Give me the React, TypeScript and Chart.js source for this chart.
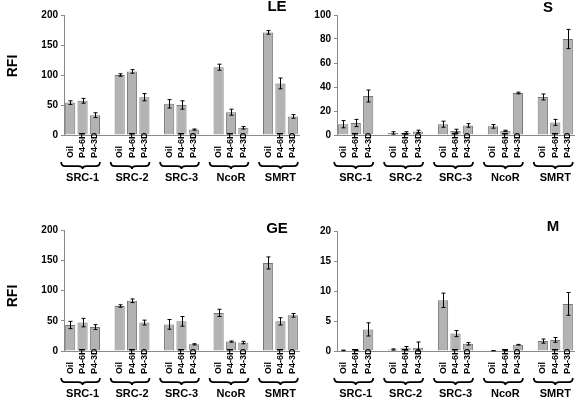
import React, { useEffect, useRef } from "react";
import { Chart, registerables } from "chart.js";

Chart.register(...registerables);

// ---------- data ----------
const groups = ["SRC-1", "SRC-2", "SRC-3", "NcoR", "SMRT"];
const treatments = ["Oil", "P4-6H", "P4-3D"];

// values listed per group: Oil, P4-6H, P4-3D
const leMeans = [54, 57, 33, 100, 106, 63, 52, 50, 9, 113, 38, 12, 171, 86, 31];
const leErrors = [3, 4, 4, 2, 3, 6, 7, 7, 1, 5, 5, 2, 3, 9, 3];

const sMeans = [9, 10, 32.5, 1.7, 1.7, 3, 9, 3.3, 8, 7.2, 3.5, 35, 31.7, 10.5, 80];
const sErrors = [3, 3, 5, 1, 1, 1, 2.5, 1.5, 1.5, 1.5, 0.5, 0.7, 2.5, 2.5, 8];

const geMeans = [43, 47, 39.5, 74.4, 83, 47, 44, 49, 11, 63, 15.5, 14, 145.5, 49, 59];
const geErrors = [6, 7, 4, 2, 3, 4, 8, 8, 1, 6, 1, 2, 10, 6, 3];

const mMeans = [0.1, 0.1, 3.6, 0.25, 0.45, 0.55, 8.45, 2.9, 1.2, 0.05, 0.05, 1.05, 1.65, 1.85, 7.85];
const mErrors = [0.05, 0.05, 1.1, 0.1, 0.3, 0.95, 1.2, 0.5, 0.2, 0, 0, 0.05, 0.35, 0.4, 1.9];

const leTicks = { max: 200, step: 50 };
const sTicks = { max: 100, step: 20 };
const geTicks = { max: 200, step: 50 };
const mTicks = { max: 20, step: 5 };

const yTitle = "RFI";

// ---------- layout ----------
type Panel = {
  title: string;
  means: number[];
  errors: number[];
  ticks: { max: number; step: number };
  left: number;
  top: number;
  width: number;
  height: number;
  padTop: number;
  padRight: number;
  yWidth: number;
  xHeight: number;
  titleDx: number;
  titleDy: number;
  showRfi: boolean;
  rfiY: number;
};

const panels: Panel[] = [
  { title: "LE", means: leMeans, errors: leErrors, ticks: leTicks, left: 0, top: 0, width: 300, height: 201, padTop: 15, padRight: 1, yWidth: 64, xHeight: 66, titleDx: -22, titleDy: -8, showRfi: true, rfiY: 66 },
  { title: "S", means: sMeans, errors: sErrors, ticks: sTicks, left: 300, top: 0, width: 276, height: 201, padTop: 15, padRight: 2, yWidth: 37, xHeight: 66, titleDx: -26, titleDy: -7, showRfi: false, rfiY: 0 },
  { title: "GE", means: geMeans, errors: geErrors, ticks: geTicks, left: 0, top: 201, width: 300, height: 201, padTop: 29, padRight: 1, yWidth: 64, xHeight: 51, titleDx: -22, titleDy: -1, showRfi: true, rfiY: 95 },
  { title: "M", means: mMeans, errors: mErrors, ticks: mTicks, left: 300, top: 201, width: 276, height: 201, padTop: 30, padRight: 2, yWidth: 37, xHeight: 51, titleDx: -21, titleDy: -4, showRfi: false, rfiY: 0 },
];

const NARROW = '"Liberation Sans Narrow", Arial, sans-serif';

function buildSeries(values: number[]) {
  const labels: string[] = [];
  const data: (number | null)[] = [];
  const errs: (number | null)[] = [];
  return { labels, data, errs };
}

function PanelChart({ p }: { p: Panel }) {
  const ref = useRef<HTMLCanvasElement | null>(null);
  useEffect(() => {
    const labels: string[] = [];
    const data: (number | null)[] = [];
    const errs: (number | null)[] = [];
    const groupIdx: number[][] = [];
    groups.forEach((g, gi) => {
      const idx: number[] = [];
      treatments.forEach((t, ti) => {
        idx.push(labels.length);
        labels.push(t);
        data.push(p.means[gi * 3 + ti]);
        errs.push(p.errors[gi * 3 + ti]);
      });
      groupIdx.push(idx);
      if (gi < groups.length - 1) {
        labels.push("");
        data.push(null);
        errs.push(null);
      }
    });

    const annot = {
      id: "annot",
      afterDatasetsDraw(chart: any) {
        const ctx = chart.ctx as CanvasRenderingContext2D;
        const yS = chart.scales.y;
        const meta = chart.getDatasetMeta(0);
        const area = chart.chartArea;
        const axisY = area.bottom;
        ctx.save();
        // error bars
        ctx.strokeStyle = "#000";
        ctx.lineWidth = 1;
        data.forEach((v, i) => {
          if (v === null) return;
          const e = errs[i] || 0;
          const x = Math.round(meta.data[i].x) + 0.5;
          const yT = yS.getPixelForValue(v + e);
          const yB = yS.getPixelForValue(Math.max(0, v - e));
          ctx.beginPath();
          ctx.moveTo(x, yT);
          ctx.lineTo(x, yB);
          ctx.moveTo(x - 2, yT);
          ctx.lineTo(x + 2, yT);
          ctx.moveTo(x - 2, yB);
          ctx.lineTo(x + 2, yB);
          ctx.stroke();
        });
        // category labels (rotated)
        ctx.fillStyle = "#000";
        ctx.font = "bold 9px " + NARROW;
        ctx.textAlign = "left";
        ctx.textBaseline = "middle";
        labels.forEach((l, i) => {
          if (!l) return;
          const x = meta.data[i].x;
          ctx.save();
          ctx.translate(x, axisY + 23);
          ctx.rotate(-Math.PI / 2);
          ctx.fillText(l, 0, 0);
          ctx.restore();
        });
        // braces + group labels
        ctx.strokeStyle = "#000";
        ctx.lineWidth = 1.8;
        groupIdx.forEach((idx, gi) => {
          const x1 = meta.data[idx[0]].x - 9;
          const x2 = meta.data[idx[2]].x + 5;
          const xm = meta.data[idx[1]].x;
          const y0 = axisY + 27;
          const h = 7;
          const ym = y0 + h * 0.6;
          const q = 4;
          ctx.beginPath();
          ctx.moveTo(x1, y0);
          ctx.quadraticCurveTo(x1, ym, x1 + q, ym);
          ctx.lineTo(xm - q, ym);
          ctx.quadraticCurveTo(xm, ym, xm, y0 + h);
          ctx.quadraticCurveTo(xm, ym, xm + q, ym);
          ctx.lineTo(x2 - q, ym);
          ctx.quadraticCurveTo(x2, ym, x2, y0);
          ctx.stroke();
          ctx.font = "bold 11px " + NARROW;
          ctx.textAlign = "center";
          ctx.textBaseline = "middle";
          ctx.fillText(groups[gi], xm, axisY + 43);
        });
        // panel title
        ctx.font = "bold 15px Arial, sans-serif";
        ctx.textAlign = "center";
        ctx.textBaseline = "middle";
        ctx.fillText(p.title, area.right + p.titleDx, area.top + p.titleDy);
        // RFI
        if (p.showRfi) {
          ctx.save();
          ctx.translate(13, p.rfiY);
          ctx.rotate(-Math.PI / 2);
          ctx.font = "bold 14px Arial, sans-serif";
          ctx.fillText(yTitle, 0, 0);
          ctx.restore();
        }
        ctx.restore();
      },
    };

    const chart = new Chart(ref.current as HTMLCanvasElement, {
      type: "bar",
      data: {
        labels,
        datasets: [
          {
            data,
            backgroundColor: "#b3b3b3",
            borderColor: "#767676",
            borderWidth: 1,
            barPercentage: 0.82,
            categoryPercentage: 1,
          },
        ],
      },
      options: {
        responsive: false,
        animation: false,
        layout: { padding: { top: p.padTop, right: p.padRight, left: 0, bottom: 0 } },
        plugins: { legend: { display: false }, tooltip: { enabled: false } },
        scales: {
          x: {
            type: "category",
            offset: true,
            grid: { display: false },
            border: { display: true, color: "#8a8a8a", width: 1 },
            ticks: { display: false },
            afterFit: (s: any) => {
              s.height = p.xHeight;
            },
          },
          y: {
            min: 0,
            max: p.ticks.max,
            ticks: {
              stepSize: p.ticks.step,
              color: "#000",
              padding: 3,
              font: { family: "Arial, sans-serif", weight: "bold", size: 10 },
            },
            grid: { display: true, drawOnChartArea: false, drawTicks: true, tickLength: 3, color: "#8a8a8a" },
            border: { display: true, color: "#8a8a8a", width: 1 },
            afterFit: (s: any) => {
              s.width = p.yWidth;
            },
          },
        },
      } as any,
      plugins: [annot],
    });
    return () => chart.destroy();
  }, [p]);

  return (
    <canvas
      ref={ref}
      width={p.width}
      height={p.height}
      style={{ position: "absolute", left: p.left, top: p.top, width: p.width, height: p.height, display: "block" }}
    />
  );
}

export default function App() {
  return (
    <div style={{ position: "absolute", left: 0, top: 0, width: 576, height: 402, background: "#fff" }}>
      {panels.map((p) => (
        <PanelChart key={p.title} p={p} />
      ))}
    </div>
  );
}
